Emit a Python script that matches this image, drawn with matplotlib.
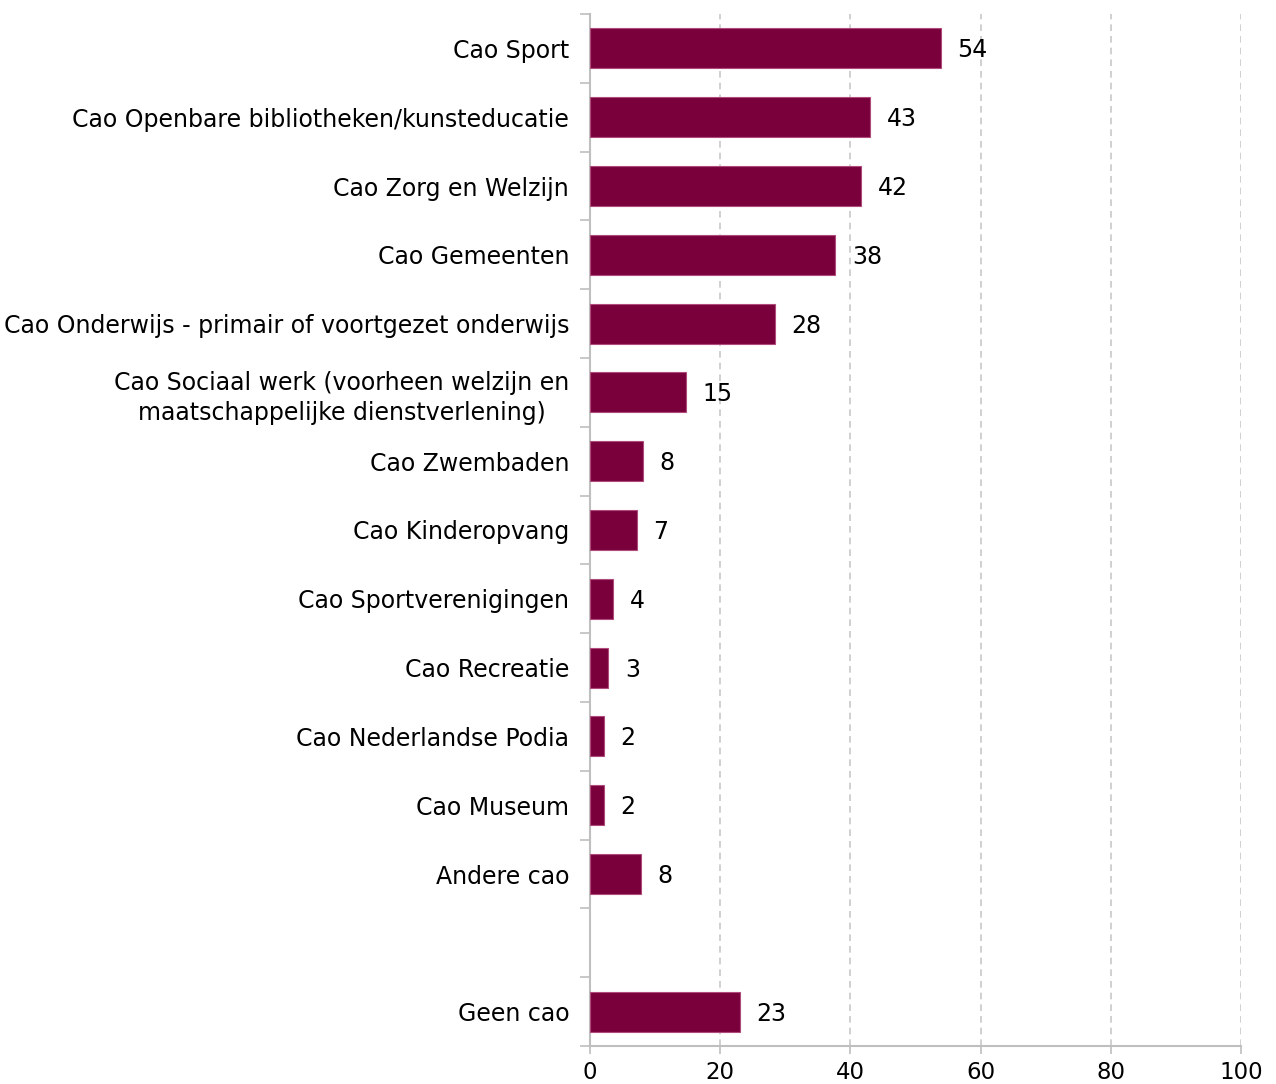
import matplotlib
matplotlib.use("Agg")
import matplotlib.pyplot as plt
from matplotlib.ticker import FixedLocator

categories = [
    "Cao Sport",
    "Cao Openbare bibliotheken/kunsteducatie",
    "Cao Zorg en Welzijn",
    "Cao Gemeenten",
    "Cao Onderwijs - primair of voortgezet onderwijs",
    "Cao Sociaal werk (voorheen welzijn en\nmaatschappelijke dienstverlening)",
    "Cao Zwembaden",
    "Cao Kinderopvang",
    "Cao Sportverenigingen",
    "Cao Recreatie",
    "Cao Nederlandse Podia",
    "Cao Museum",
    "Andere cao",
    "",
    "Geen cao",
]
values = [53.9, 43.0, 41.6, 37.7, 28.4, 14.7, 8.1, 7.2, 3.5, 2.8, 2.1, 2.1, 7.8, None, 23.0]
x_ticks = [0, 20, 40, 60, 80, 100]

plt.rcParams['font.family'] = ['DejaVu Sans']
fig = plt.figure(figsize=(12.76, 10.84), dpi=100)
ax = fig.add_axes([590/1276, 1-1046/1084, (1241-590)/1276, (1046-14)/1084])

bar_color = "#7a003c"
grid_color = "#c8c8c8"
axis_color = "#bfbfbf"

ys = list(range(len(categories)))
for y, v in zip(ys, values):
    if v is None:
        continue
    ax.barh(y, v, height=0.58, color=bar_color, edgecolor="#b04a7a", linewidth=0.8, zorder=3)
    ax.annotate(f"{round(v):d}", xy=(v, y), xytext=(12, -1.5), textcoords="offset points",
                ha="left", va="center", fontsize=17, color="black", zorder=4)

ax.set_xlim(0, 100)
ax.set_ylim(len(categories) - 0.5, -0.5)

ax.set_xticks(x_ticks)
ax.set_xticklabels([str(t) for t in x_ticks], fontsize=16.5)
ax.tick_params(axis="x", length=6, width=1.2, color=axis_color, pad=5)

ax.set_yticks(ys)
ax.set_yticklabels(categories, fontsize=17, multialignment="center", linespacing=1.3)
ax.tick_params(axis="y", which="major", length=0, pad=15)
ax.yaxis.set_minor_locator(FixedLocator([i - 0.5 for i in range(len(categories) + 1)]))
ax.tick_params(axis="y", which="minor", length=7, width=1.2, color=axis_color)

for t in x_ticks[1:]:
    ax.axvline(t, color=grid_color, linestyle=(0, (4, 3)), linewidth=1.2, zorder=1)

for s in ["top", "right"]:
    ax.spines[s].set_visible(False)
for s in ["left", "bottom"]:
    ax.spines[s].set_color(axis_color)
    ax.spines[s].set_linewidth(1.5)

fig.savefig("out.png", dpi=100)
